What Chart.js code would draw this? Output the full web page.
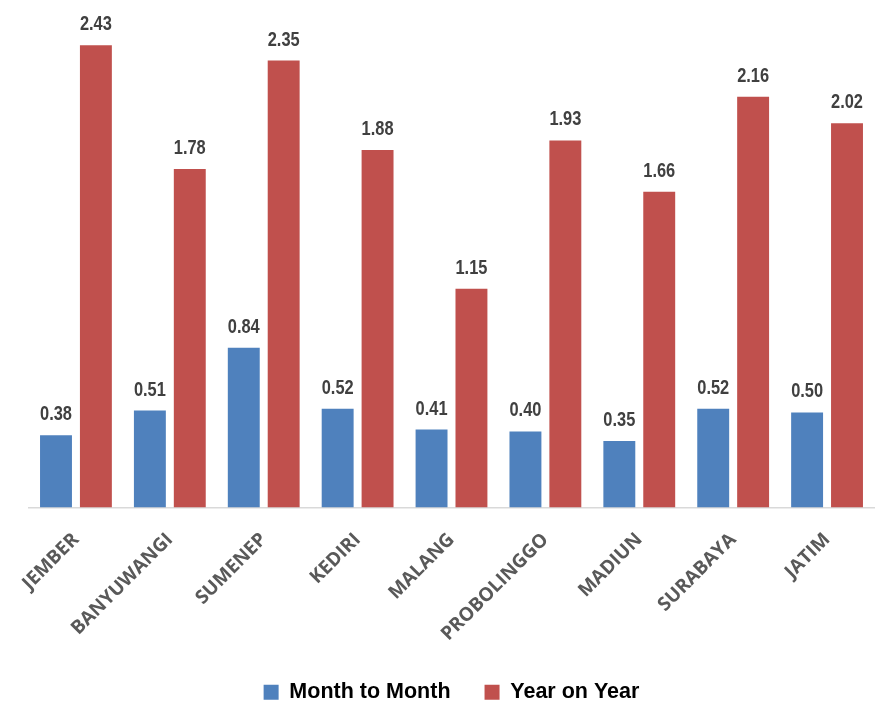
<!DOCTYPE html>
<html>
<head>
<meta charset="utf-8">
<script src="https://cdn.jsdelivr.net/npm/chart.js@4.4.0/dist/chart.umd.min.js"></script>
<style>
    html, body { margin: 0; padding: 0; background: #fff; }
    #wrap { width: 883px; height: 703px; }
</style>
</head>
<body>
<div id="wrap"><canvas id="chart" width="883" height="703"></canvas></div>
<script>
// Data
const regions = ['JEMBER', 'BANYUWANGI', 'SUMENEP', 'KEDIRI', 'MALANG', 'PROBOLINGGO', 'MADIUN', 'SURABAYA', 'JATIM'];
const monthToMonth = [0.38, 0.51, 0.84, 0.52, 0.41, 0.40, 0.35, 0.52, 0.50];
const yearOnYear = [2.43, 1.78, 2.35, 1.88, 1.15, 1.93, 1.66, 2.16, 2.02];

const labelFont = '"Liberation Sans", Arial, sans-serif';

// labels above the bars (squeezed a bit to look like a narrow font)
const valueLabels = {
    id: 'valueLabels',
    afterDatasetsDraw(chart) {
        const ctx = chart.ctx;
        chart.data.datasets.forEach((ds, i) => {
            chart.getDatasetMeta(i).data.forEach((bar, j) => {
                ctx.save();
                ctx.translate(bar.x, bar.y - 15);
                ctx.scale(0.82, 1);
                ctx.font = 'bold 20px ' + labelFont;
                ctx.fillStyle = '#404040';
                ctx.textAlign = 'center';
                ctx.textBaseline = 'alphabetic';
                ctx.fillText(ds.data[j].toFixed(2), 0, 0);
                ctx.restore();
            });
        });
    }
};

const ctx = document.getElementById('chart').getContext('2d');
new Chart(ctx, {
    type: 'bar',
    data: {
        labels: regions,
        datasets: [{
            label: 'Month to Month',
            data: monthToMonth,
            backgroundColor: '#4f81bd',
            categoryPercentage: 0.85,
            barPercentage: 0.8
        }, {
            label: 'Year on Year',
            data: yearOnYear,
            backgroundColor: '#c0504d',
            categoryPercentage: 0.85,
            barPercentage: 0.8
        }]
    },
    options: {
        responsive: false,
        animation: false,
        layout: {
            padding: { left: 29, right: 9, top: 32, bottom: -10 }
        },
        plugins: {
            legend: {
                position: 'bottom',
                labels: {
                    color: '#000',
                    boxWidth: 15,
                    boxHeight: 15,
                    padding: 34,
                    font: { family: labelFont, size: 21.5, weight: 'bold' }
                }
            },
            tooltip: { enabled: false }
        },
        scales: {
            x: {
                grid: { display: false },
                border: { display: true, color: '#d9d9d9', width: 1.5 },
                ticks: {
                    color: '#595959',
                    maxRotation: 45,
                    minRotation: 45,
                    padding: 13,
                    font: { family: '"Open Sans", sans-serif', size: 19, weight: 'bold' }
                },
                // let the rotated labels reach into the space above the legend
                afterFit(scale) {
                    scale.height -= 11;
                }
            },
            y: {
                display: false,
                min: 0,
                max: 2.5
            }
        }
    },
    plugins: [valueLabels]
});
</script>
</body>
</html>
